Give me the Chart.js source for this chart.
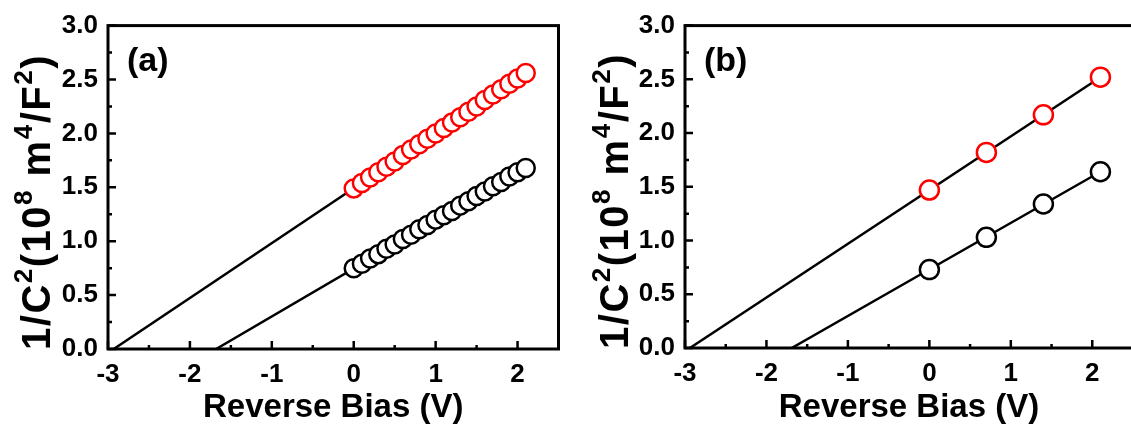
<!DOCTYPE html>
<html>
<head>
<meta charset="utf-8">
<script src="https://cdn.jsdelivr.net/npm/chart.js@4/dist/chart.umd.min.js"></script>
<style>
  html, body { margin: 0; padding: 0; background: #fff; }
  #wrap { position: relative; width: 1131px; height: 432px; overflow: hidden; }
  #boxA { position: absolute; left: 0; top: 0; }
  #boxB { position: absolute; left: 570px; top: 0; }
</style>
</head>
<body>
<div id="wrap">
  <div id="boxA"><canvas id="chartA" width="570" height="432"></canvas></div>
  <div id="boxB"><canvas id="chartB" width="575" height="432"></canvas></div>
</div>
<script>
// panel (a)
const biasA  = [0, 0.1, 0.2, 0.3, 0.4, 0.5, 0.6, 0.7, 0.8, 0.9, 1.0, 1.1, 1.2, 1.3, 1.4, 1.5, 1.6, 1.7, 1.8, 1.9, 2.0, 2.1];
const blackA = [0.75, 0.79, 0.84, 0.88, 0.93, 0.97, 1.02, 1.06, 1.11, 1.15, 1.20, 1.24, 1.28, 1.33, 1.37, 1.42, 1.46, 1.51, 1.55, 1.60, 1.64, 1.68];
const redA   = [1.49, 1.54, 1.59, 1.64, 1.69, 1.74, 1.80, 1.85, 1.90, 1.95, 2.00, 2.05, 2.10, 2.15, 2.20, 2.25, 2.31, 2.36, 2.41, 2.46, 2.51, 2.56];
const fitRedA   = { x: [-2.93, 2.1], y: [0, 2.56] };
const fitBlackA = { x: [-1.68, 2.1], y: [0, 1.68] };

// panel (b)
const biasB  = [0, 0.7, 1.4, 2.1];
const blackB = [0.73, 1.03, 1.34, 1.64];
const redB   = [1.47, 1.82, 2.17, 2.52];
const fitRedB   = { x: [-2.94, 2.1], y: [0, 2.52] };
const fitBlackB = { x: [-1.69, 2.1], y: [0, 1.64] };

// axes
const xTicks = [-3, -2, -1, 0, 1, 2];
const xMinor = [-2.5, -1.5, -0.5, 0.5, 1.5];
const yTicks = [0, 0.5, 1.0, 1.5, 2.0, 2.5, 3.0];
const yMinor = [0.25, 0.75, 1.25, 1.75, 2.25, 2.75];
const xTitle = "Reverse Bias (V)";
// y title pieces: [text, superscript?]
const yTitle = [["1/C", 0], ["2", 1], ["(10", 0], ["8", 1], [" m", 0], ["4", 1], ["/F", 0], ["2", 1], [")", 0]];

const FONT = "'Liberation Sans', Arial, sans-serif";

const pts = (xs, ys) => xs.map((x, i) => ({ x, y: ys[i] }));

// frame, inward ticks, y title and panel tag
const decor = {
  id: "decor",
  afterDatasetsDraw(chart, args, opt) {
    const { ctx, chartArea: a, scales: { x, y } } = chart;
    ctx.save();
    ctx.strokeStyle = "#000";
    ctx.lineWidth = 2.5;
    ctx.beginPath();
    xTicks.forEach(v => { const p = x.getPixelForValue(v); ctx.moveTo(p, a.bottom); ctx.lineTo(p, a.bottom - 8); });
    xMinor.forEach(v => { const p = x.getPixelForValue(v); ctx.moveTo(p, a.bottom); ctx.lineTo(p, a.bottom - 4); });
    yTicks.forEach(v => { const p = y.getPixelForValue(v); ctx.moveTo(a.left, p); ctx.lineTo(a.left + 8, p); });
    yMinor.forEach(v => { const p = y.getPixelForValue(v); ctx.moveTo(a.left, p); ctx.lineTo(a.left + 4, p); });
    ctx.stroke();
    ctx.lineWidth = 3;
    ctx.strokeRect(a.left, a.top, a.right - a.left, a.bottom - a.top);

    // panel tag
    ctx.fillStyle = "#000";
    ctx.font = "bold 34px " + FONT;
    ctx.textBaseline = "middle";
    ctx.textAlign = "left";
    ctx.fillText(opt.tag, a.left + 19, a.top + 36);

    // rotated y title with superscripts
    const big = "bold 40px " + FONT, sup = "bold 26px " + FONT;
    ctx.letterSpacing = "1.5px";
    let w = 0;
    yTitle.forEach(([t, s]) => { ctx.font = s ? sup : big; w += ctx.measureText(t).width; });
    ctx.translate(opt.titleX, opt.titleY);
    ctx.rotate(-Math.PI / 2);
    ctx.textBaseline = "alphabetic";
    let cx = -w / 2;
    yTitle.forEach(([t, s]) => {
      ctx.font = s ? sup : big;
      ctx.fillText(t, cx, s ? -4 : 14);
      cx += ctx.measureText(t).width;
    });
    ctx.restore();
  }
};

function makeChart(id, sets, lay) {
  const data = [
    { data: pts(sets.bias, sets.red), borderColor: "#ff0000" },
    { data: pts(sets.bias, sets.black), borderColor: "#000" }
  ].map(d => Object.assign(d, {
    showLine: false, backgroundColor: "#fff", pointRadius: lay.r, pointBorderWidth: 2.5, order: 0
  }));
  [sets.fitRed, sets.fitBlack].forEach(f => data.push({
    data: pts(f.x, f.y), showLine: true, borderColor: "#000", borderWidth: 2.5, pointRadius: 0, order: 1
  }));

  return new Chart(document.getElementById(id), {
    type: "scatter",
    data: { datasets: data },
    plugins: [decor],
    options: {
      responsive: false,
      animation: false,
      layout: { padding: { left: 0, top: lay.top, right: lay.right, bottom: 0 } },
      plugins: {
        legend: { display: false },
        tooltip: { enabled: false },
        decor: { tag: lay.tag, titleX: lay.titleX, titleY: lay.titleY }
      },
      scales: {
        x: {
          min: -3, max: 2.5,
          grid: { display: false, drawTicks: false },
          border: { display: false },
          afterBuildTicks: s => { s.ticks = xTicks.map(v => ({ value: v })); },
          afterFit: s => { s.height = lay.xh; },
          ticks: { padding: 10, color: "#000", font: { family: FONT, size: 26, weight: "bold" }, callback: v => String(v) },
          title: { display: true, text: xTitle, color: "#000", padding: { top: 0 }, font: { family: FONT, size: 33, weight: "bold" } }
        },
        y: {
          min: 0, max: 3,
          grid: { display: false, drawTicks: false },
          border: { display: false },
          afterBuildTicks: s => { s.ticks = yTicks.map(v => ({ value: v })); },
          afterFit: s => { s.width = lay.yw; },
          ticks: { padding: 10, color: "#000", font: { family: FONT, size: 26, weight: "bold" }, callback: v => v.toFixed(1) }
        }
      }
    }
  });
}

makeChart("chartA",
  { bias: biasA, red: redA, black: blackA, fitRed: fitRedA, fitBlack: fitBlackA },
  { tag: "(a)", r: 9, top: 19, right: 8, yw: 108, xh: 83, titleX: 36, titleY: 202 });
makeChart("chartB",
  { bias: biasB, red: redB, black: blackB, fitRed: fitRedB, fitBlack: fitBlackB },
  { tag: "(b)", r: 9.5, top: 24, right: 8, yw: 115, xh: 84, titleX: 44, titleY: 201 });
</script>
</body>
</html>
